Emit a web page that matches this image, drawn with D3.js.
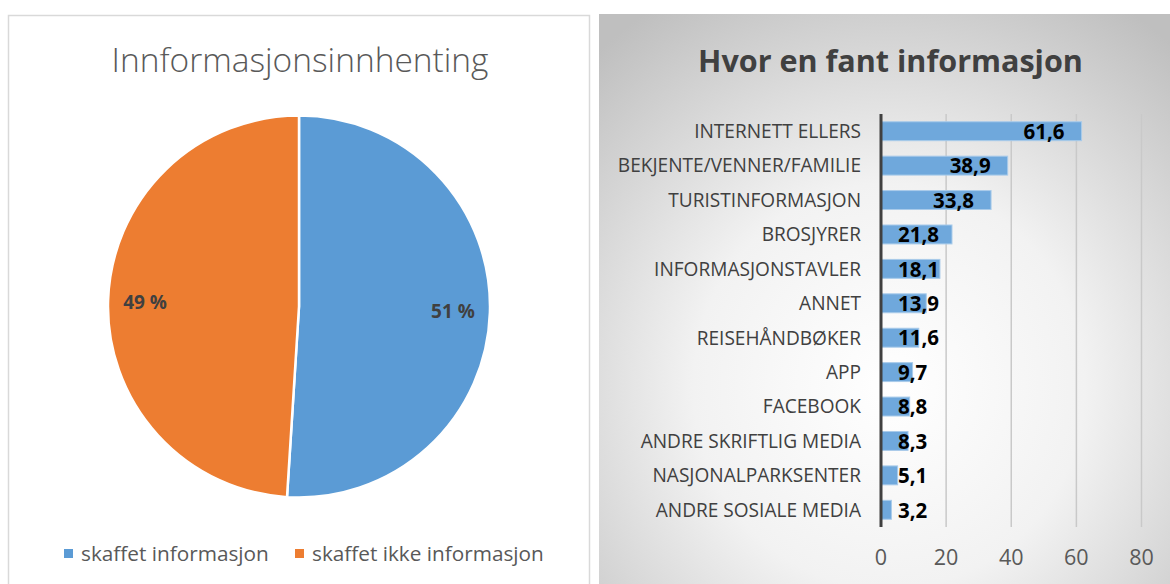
<!DOCTYPE html>
<html>
<head>
<meta charset="utf-8">
<script src="https://cdn.jsdelivr.net/npm/d3@7"></script>
<style>
  html, body { margin: 0; padding: 0; background: #fff; }
  svg text { font-family: "Open Sans", sans-serif; }
</style>
</head>
<body>
<svg id="chart" width="1170" height="584"></svg>
<script>
// pie data
const pieLabels = ["skaffet informasjon", "skaffet ikke informasjon"];
const pieValues = [51, 49];
const pieColors = ["#5B9BD5", "#ED7D31"];

// bar data
const categories = ["INTERNETT ELLERS", "BEKJENTE/VENNER/FAMILIE", "TURISTINFORMASJON", "BROSJYRER",
  "INFORMASJONSTAVLER", "ANNET", "REISEHÅNDBØKER", "APP", "FACEBOOK", "ANDRE SKRIFTLIG MEDIA",
  "NASJONALPARKSENTER", "ANDRE SOSIALE MEDIA"];
const values = [61.6, 38.9, 33.8, 21.8, 18.1, 13.9, 11.6, 9.7, 8.8, 8.3, 5.1, 3.2];
const xTicks = [0, 20, 40, 60, 80];

const svg = d3.select("#chart");
const fmt = v => d3.format(".1f")(v).replace(".", ",");

// fit a text element to a target width by changing its font size
function fitWidth(sel, target) {
  let fs = parseFloat(sel.attr("font-size"));
  let w = sel.node().getComputedTextLength();
  let nfs = fs * target / w;
  sel.attr("font-size", nfs);
  return nfs;
}

// ---------- left panel: pie ----------
svg.append("rect")
  .attr("x", 8.5).attr("y", 15.5)
  .attr("width", 581).attr("height", 620)
  .attr("fill", "#fff").attr("stroke", "#D9D9D9").attr("stroke-width", 1.5);

let t1 = svg.append("text")
  .attr("x", 300).attr("y", 72)
  .attr("text-anchor", "middle")
  .attr("font-size", 34).attr("font-weight", 300)
  .attr("fill", "#595959")
  .text("Innformasjonsinnhenting");
fitWidth(t1, 377);

let pie = d3.pie().sort(null);
let arcs = pie(pieValues);
let arc = d3.arc().innerRadius(0).outerRadius(191);
let labelArc = d3.arc().innerRadius(154).outerRadius(154);

let pg = svg.append("g").attr("transform", "translate(299,306.5)");
pg.selectAll("path")
  .data(arcs)
  .join("path")
  .attr("d", arc)
  .attr("fill", (d, i) => pieColors[i])
  .attr("stroke", "#fff")
  .attr("stroke-width", 2.5);

pg.selectAll("text")
  .data(arcs)
  .join("text")
  .attr("transform", d => "translate(" + labelArc.centroid(d) + ")")
  .attr("text-anchor", "middle")
  .attr("dy", "0.36em")
  .attr("font-size", 19).attr("font-weight", 700)
  .attr("fill", "#404040")
  .text(d => d.data + " %");

// legend
let legendX = [64, 295];
let lg = svg.append("g");
pieLabels.forEach((lab, i) => {
  lg.append("rect")
    .attr("x", legendX[i]).attr("y", 549)
    .attr("width", 9).attr("height", 9)
    .attr("fill", pieColors[i]);
  let lt = lg.append("text")
    .attr("x", legendX[i] + 17).attr("y", 561)
    .attr("font-size", 18.5)
    .attr("fill", "#595959")
    .text(lab);
  if (i == 0) fitWidth(lt, 188);
  else fitWidth(lt, 232);
});

// ---------- right panel: bars ----------
let defs = svg.append("defs");
let grad = defs.append("radialGradient")
  .attr("id", "bg")
  .attr("cx", "0.5").attr("cy", "0.62").attr("r", "0.75");
grad.append("stop").attr("offset", "0").attr("stop-color", "#FFFFFF");
grad.append("stop").attr("offset", "0.45").attr("stop-color", "#F2F2F2");
grad.append("stop").attr("offset", "1").attr("stop-color", "#BFBFBF");

svg.append("rect")
  .attr("x", 599).attr("y", 14)
  .attr("width", 580).attr("height", 600)
  .attr("fill", "url(#bg)");

let t2 = svg.append("text")
  .attr("x", 890.5).attr("y", 72)
  .attr("text-anchor", "middle")
  .attr("font-size", 32).attr("font-weight", 700)
  .attr("fill", "#404040")
  .text("Hvor en fant informasjon");
fitWidth(t2, 385);

let x = d3.scaleLinear().domain([0, 80]).range([881, 1141.5]);
let y = d3.scaleBand().domain(categories).range([114, 527])
  .paddingInner(0.45).paddingOuter(0.225);

// gridlines
svg.append("g")
  .selectAll("line")
  .data(xTicks.slice(1))
  .join("line")
  .attr("x1", d => x(d)).attr("x2", d => x(d))
  .attr("y1", 114).attr("y2", 527)
  .attr("stroke", "#C9C9C9").attr("stroke-width", 1.5);

// tick labels
svg.append("g")
  .selectAll("text")
  .data(xTicks)
  .join("text")
  .attr("x", d => x(d)).attr("y", 565)
  .attr("text-anchor", "middle")
  .attr("font-size", 21.5)
  .attr("fill", "#595959")
  .text(d => d);

// bars
svg.append("g")
  .selectAll("rect")
  .data(values)
  .join("rect")
  .attr("x", x(0))
  .attr("y", (d, i) => y(categories[i]))
  .attr("width", d => x(d) - x(0))
  .attr("height", y.bandwidth())
  .attr("fill", "#6FA8DC")
  .attr("stroke", "#A9CBEA").attr("stroke-width", 1);

// axis line
svg.append("line")
  .attr("x1", x(0)).attr("x2", x(0))
  .attr("y1", 114).attr("y2", 527)
  .attr("stroke", "#404040").attr("stroke-width", 3);

// category labels
let catText = svg.append("g")
  .selectAll("text")
  .data(categories)
  .join("text")
  .attr("x", 861)
  .attr("y", d => y(d) + y.bandwidth() / 2)
  .attr("dy", "0.36em")
  .attr("text-anchor", "end")
  .attr("font-size", 16.3)
  .attr("fill", "#404040")
  .text(d => d);
// size taken from the longest label
let longest = catText.filter(d => d == "BEKJENTE/VENNER/FAMILIE");
let catSize = fitWidth(longest, 243);
catText.attr("font-size", catSize);

// value labels
svg.append("g")
  .selectAll("text")
  .data(values)
  .join("text")
  .attr("y", (d, i) => y(categories[i]) + y.bandwidth() / 2)
  .attr("dy", "0.38em")
  .attr("font-size", 20.5).attr("font-weight", 700)
  .attr("fill", "#000")
  .text(d => fmt(d))
  .each(function (d) {
    let w = this.getComputedTextLength();
    let left = Math.max(x(d) - 17 - w, x(0) + 17);
    d3.select(this).attr("x", left);
  });
</script>
</body>
</html>
